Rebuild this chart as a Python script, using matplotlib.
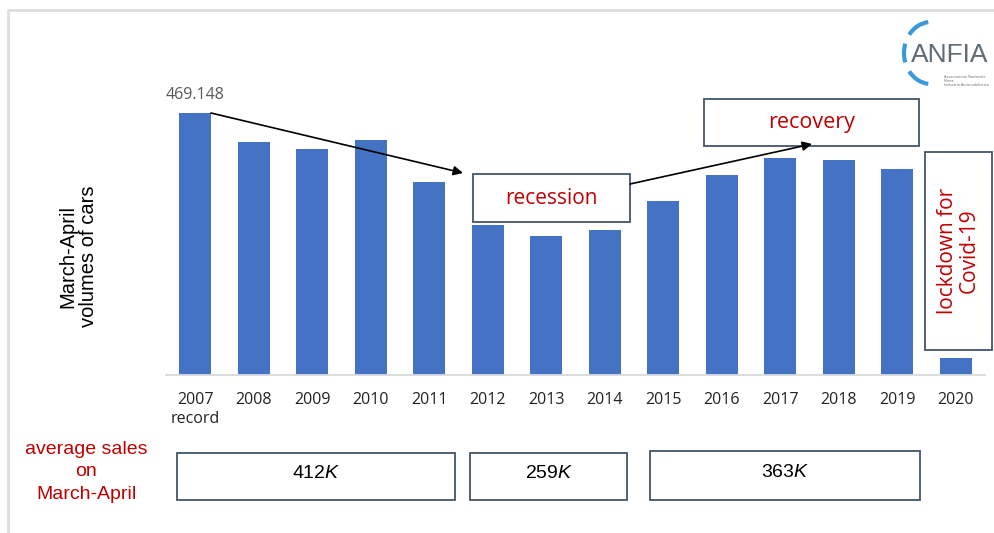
import numpy as np
import matplotlib
matplotlib.use('Agg')
import matplotlib.pyplot as plt
from matplotlib.patches import Rectangle, Arc

years = ['2007\nrecord', '2008', '2009', '2010', '2011', '2012', '2013',
         '2014', '2015', '2016', '2017', '2018', '2019', '2020']
volumes = [469.148, 418, 405, 421, 345, 268, 249, 259, 311, 359, 388, 385, 369, 31]

avg_labels = ['412$K$', '259$K$', '363$K$']

bar_col = '#4472C4'
red = '#C00000'
box_edge = '#44546A'

plt.rcParams['mathtext.fontset'] = 'custom'
plt.rcParams['mathtext.rm'] = 'Liberation Sans'
plt.rcParams['mathtext.it'] = 'Liberation Sans:italic'

W, H = 995, 533
fig = plt.figure(figsize=(W/100, H/100), dpi=100)

# main chart axes (pixel layout)
ax = fig.add_axes([166/W, (H-375)/H, (985-166)/W, (375-10)/H])
x = np.arange(len(volumes))
ax.bar(x, volumes, width=0.55, color=bar_col, zorder=2)
ax.set_xlim(-0.5, 13.5)
ax.set_ylim(0, 654)
ax.set_xticks(x)
ax.set_xticklabels(years, fontsize=11.5, family='Open Sans', color='#222222',
                   linespacing=1.3)
ax.tick_params(axis='x', length=0, pad=12)
ax.set_yticks([])
for s in ['top', 'right', 'left']:
    ax.spines[s].set_visible(False)
ax.spines['bottom'].set_color('#D9D9D9')
ax.spines['bottom'].set_linewidth(1.3)
ax.patch.set_alpha(0)

# overlay in pixel coordinates
ov = fig.add_axes([0, 0, 1, 1])
ov.set_xlim(0, W)
ov.set_ylim(H, 0)
ov.axis('off')
ov.patch.set_alpha(0)

# slide frame
ov.plot([8, 8, W], [H, 10, 10], color='#DDDDDD', lw=2)

# record value
ov.text(195, 95, '469.148', fontsize=11.5, family='Open Sans', color='#595959',
        ha='center', va='center')

# y label
ov.text(78, 256, 'March-April\nvolumes of cars', rotation=90, fontsize=14.5,
        family='Liberation Sans', ha='center', va='center', linespacing=1.1)

def box(x0, y0, x1, y1, txt, color, size, rot=0, fam='Open Sans'):
    ov.add_patch(Rectangle((x0, y0), x1-x0, y1-y0, fill=False,
                           edgecolor=box_edge, lw=1.3))
    ov.text((x0+x1)/2, (y0+y1)/2, txt, color=color, fontsize=size,
            family=fam, ha='center', va='center', rotation=rot,
            linespacing=1.05)

box(473, 174, 630, 222, 'recession', red, 15)
box(704, 99, 919, 146, 'recovery', red, 15.5)
box(925, 152, 992, 350, 'lockdown for\nCovid-19', red, 15, rot=90)

# arrows
ov.annotate('', xy=(463, 173), xytext=(211, 113),
            arrowprops=dict(arrowstyle='-|>', color='black', lw=1.2,
                            mutation_scale=14, shrinkA=0, shrinkB=0))
ov.annotate('', xy=(812, 144), xytext=(630, 184),
            arrowprops=dict(arrowstyle='-|>', color='black', lw=1.2,
                            mutation_scale=14, shrinkA=0, shrinkB=0))

# average sales
ov.text(86, 472, 'average sales\non\nMarch-April', color=red, fontsize=14,
        family='Liberation Sans', ha='center', va='center', linespacing=1.4)
avg_boxes = [(177, 453, 455, 500), (470, 453, 627, 500), (650, 451, 920, 500)]
for (x0, y0, x1, y1), lab in zip(avg_boxes, avg_labels):
    box(x0, y0, x1, y1, '', 'black', 14)
    ov.text((x0+x1)/2, (y0+y1)/2 - 3, lab, fontsize=14,
            family='Liberation Sans', ha='center', va='center')

# ANFIA logo
lc = '#3A9AD9'
for t1, t2 in [(220, 265), (160, 200), (95, 140)]:
    ov.add_patch(Arc((931, 53), 54, 62, theta1=t1, theta2=t2, color=lc, lw=3))
ov.text(911, 55, 'ANFIA', fontsize=19, family='Liberation Sans',
        color='#5F6B75', ha='left', va='center')
ov.text(944, 81, 'Associazione Nazionale\nFiliera\nIndustria Automobilistica',
        fontsize=2.5, color='#707070', ha='left', va='center', linespacing=1.0)

fig.savefig('out.png', dpi=100)
